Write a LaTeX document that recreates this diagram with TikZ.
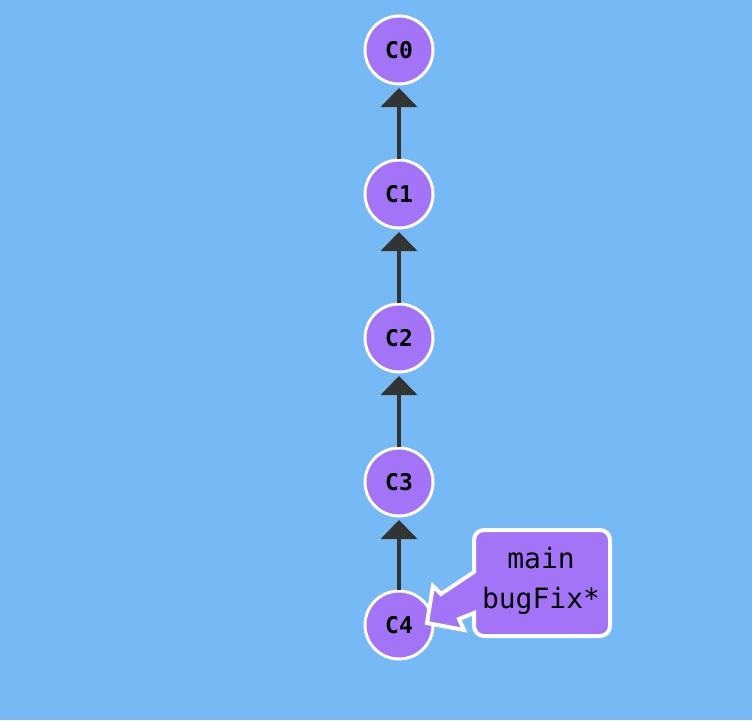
\documentclass[tikz,border=0pt]{standalone}
\usepackage{fontspec}
\setmonofont{DejaVu Sans Mono}
\usepackage{tikz}
\usetikzlibrary{arrows.meta}
\usetikzlibrary{positioning}
\definecolor{sky}{RGB}{117,185,245}
\definecolor{lilac}{RGB}{164,116,248}
\definecolor{ink}{RGB}{51,51,51}
\tikzstyle{commit}=[circle,draw=white,line width=3pt,fill=lilac,minimum size=68pt,inner sep=0pt,font=\ttfamily\bfseries\fontsize{23}{23}\selectfont]
\tikzstyle{tagtext}=[align=center,font=\ttfamily\fontsize{28}{40}\selectfont]
\tikzstyle{tagbox}=[draw=white,line width=4pt,fill=lilac,line join=miter]
\tikzstyle{parent}=[draw,ink,line width=4pt,-{Triangle[width=36pt,length=19pt]},shorten >=2.5pt]

\begin{document}
\begin{tikzpicture}[x=1pt,y=-1pt]

	\useasboundingbox[fill=sky] (0,0) rectangle (752,720);

	\node[commit] (c0) at (399,50)  {C0};
	\node[commit] (c1) at (399,194) {C1};
	\node[commit] (c2) at (399,338) {C2};
	\node[commit] (c3) at (399,482) {C3};
	\node[commit] (c4) at (399,625) {C4};

	\path[parent] (c1) -- (c0);
	\path[parent] (c2) -- (c1);
	\path[parent] (c3) -- (c2);
	\path[parent] (c4) -- (c3);

% % % branch tag
	\path[tagbox] (474,572) [rounded corners=10pt] -- (474,530) -- (610,530)
		-- (610,636) -- (474,636) [sharp corners] -- (474,613) -- (459,619)
		-- (464,630) -- (427,623) -- (433,586) -- (441,594) -- cycle;

	\node[tagtext] (tag) at (541,581) {main\\bugFix*};

\end{tikzpicture}
\end{document}
